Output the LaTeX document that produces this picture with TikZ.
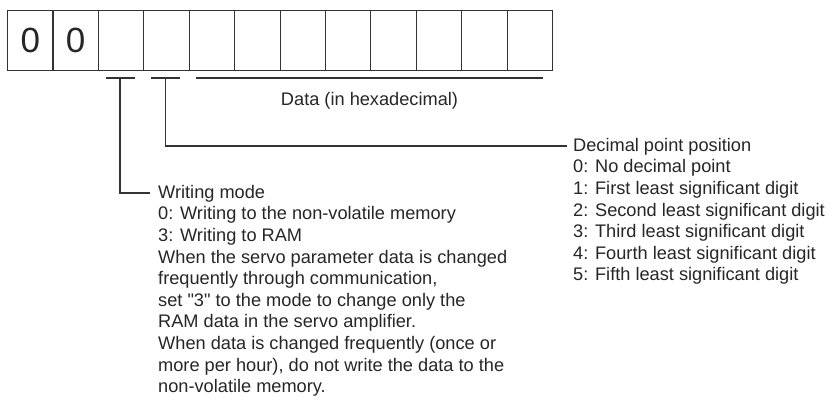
\documentclass[tikz,border=0pt]{standalone}
\usepackage{fontspec}
\setmainfont{Liberation Sans}[Ligatures=TeXOff]
\begin{document}
\begin{tikzpicture}[x=1pt,y=-1pt,
  ln/.style={draw=black!80,line width=1.1pt},
  cellbox/.style={ln,minimum width=45.42pt,minimum height=60pt,inner sep=0pt,anchor=north west},
  digit/.style={inner sep=0pt,font=\fontsize{35}{40}\selectfont,text=black!85},
  txt/.style={inner sep=0pt,font=\fontsize{18.2}{21.6}\selectfont,text=black!85,align=left}]
\useasboundingbox (0,0) rectangle (834,403);
\foreach \i in {0,...,11}{
  \node[cellbox] (c\i) at ({7+45.42*\i},10) {};
}
\node[digit] (z0) at (c0) {0};
\node[digit] (z1) at (c1) {0};
% brackets
\coordinate (b1l) at (106,78); \coordinate (b1r) at (135,78);
\coordinate (b2l) at (151,78); \coordinate (b2r) at (180,78);
\coordinate (b3l) at (196,78); \coordinate (b3r) at (543,78);
\draw[ln] (b1l) -- (b1r);
\draw[ln] (b2l) -- (b2r);
\draw[ln] (b3l) -- (b3r);
\node[txt,anchor=north] (data) at (369.5,92) {Data (in hexadecimal)};
\node[txt,anchor=north west] (dec) at (573,138) {Decimal point position\\
0: No decimal point\\
1: First least significant digit\\
2: Second least significant digit\\
3: Third least significant digit\\
4: Fourth least significant digit\\
5: Fifth least significant digit};
\node[txt,anchor=north west] (wm) at (158,185) {Writing mode\\
0: Writing to the non-volatile memory\\
3: Writing to RAM\\
When the servo parameter data is changed\\
frequently through communication,\\
set "3" to the mode to change only the\\
RAM data in the servo amplifier.\\
When data is changed frequently (once or\\
more per hour), do not write the data to the\\
non-volatile memory.};
\coordinate (w1) at (120,78); \coordinate (w2) at (120,193); \coordinate (w3) at (150,193);
\coordinate (d1) at (165.5,78); \coordinate (d2) at (165.5,146); \coordinate (d3) at (567,146);
\draw[ln] (w1) -- (w2) -- (w3);
\draw[ln] (d1) -- (d2) -- (d3);
\end{tikzpicture}
\end{document}
